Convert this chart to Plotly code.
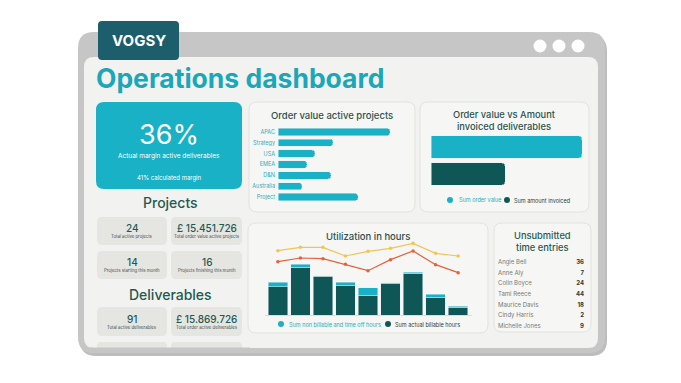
import plotly.graph_objects as go

W, H = 681, 383

# ---------------- data ----------------
region_names = ["APAC", "Strategy", "USA", "EMEA", "D&N", "Australia", "Project"]
region_order_value = [112, 55, 37, 29, 53, 24, 80]

deliv_series = ["Sum order value", "Sum amount invoiced"]
deliv_values = [15869726, 7780000]

util_periods = ["P1", "P2", "P3", "P4", "P5", "P6", "P7", "P8", "P9"]
util_billable = [85, 144, 116, 90, 59, 95, 125, 54, 23]
util_nonbillable = [13, 9, 2, 9, 23, 2, 3, 8, 4]
util_line_yellow = [193, 203, 203, 177, 191, 200, 215, 185, 177]
util_line_red = [160, 171, 169, 152, 133, 166, 192, 151, 127]

entry_names = ["Angie Bell", "Anne Aly", "Colin Boyce", "Tami Reece",
               "Maurice Davis", "Cindy Harris", "Michelle Jones"]
entry_counts = [36, 7, 24, 44, 18, 2, 9]

proj_values = ["24", "£ 15.451.726", "14", "16"]
proj_labels = ["Total active projects", "Total order value active projects",
               "Projects starting this month", "Projects finishing this month"]
deliv_kpi_values = ["91", "£ 15.869.726"]
deliv_kpi_labels = ["Total active deliverables", "Total order active deliverables"]

margin_actual = "36%"
margin_calc = "41% calculated margin"

# ---------------- styles ----------------
TEAL = "#19b1c5"
DARK = "#0f5757"
TXT = "#1f5a52"
TITLE_TXT = "#2d524d"
FONT = "Inter"


def px(x):
    return x / W


def py(y):
    return 1 - y / H


def P(x, y):
    return f"{px(x):.5f},{py(y):.5f}"


def rr(x0, y0, x1, y1, r):
    return (f"M{P(x0 + r, y0)} L{P(x1 - r, y0)} Q{P(x1, y0)} {P(x1, y0 + r)} "
            f"L{P(x1, y1 - r)} Q{P(x1, y1)} {P(x1 - r, y1)} L{P(x0 + r, y1)} "
            f"Q{P(x0, y1)} {P(x0, y1 - r)} L{P(x0, y0 + r)} Q{P(x0, y0)} {P(x0 + r, y0)} Z")


shapes = []


def box(x0, y0, x1, y1, r, fill, line=None, lw=0):
    shapes.append(dict(type="path", xref="paper", yref="paper", path=rr(x0, y0, x1, y1, r),
                       fillcolor=fill, line=dict(color=line or fill, width=lw), layer="below"))


def circ(cx, cy, r, fill):
    shapes.append(dict(type="circle", xref="paper", yref="paper",
                       x0=px(cx - r), x1=px(cx + r), y0=py(cy + r), y1=py(cy - r),
                       fillcolor=fill, line=dict(width=0), layer="above"))


annotations = []


def text(x, y, s, size, color, bold=False, xanchor="center", family=FONT, weight=None):
    annotations.append(dict(x=px(x), y=py(y), xref="paper", yref="paper", text=s,
                            showarrow=False, xanchor=xanchor, yanchor="middle",
                            font=dict(size=size, color=color, family=family,
                                      weight=weight if weight else (700 if bold else 400))))


# frame
box(80, 35, 607, 356, 16, "#bdbdbd")
box(78, 32, 605, 353, 16, "#c6c6c6")
box(84, 57, 598, 348, 10, "#f2f2f0")
for cx in [540, 559, 578]:
    circ(cx, 46, 6.5, "#ffffff")
# VOGSY tab
box(98, 21, 179, 60, 4, "#1d5e6c")
text(138.5, 41, "VOGSY", 15, "#ffffff", bold=True)

text(94, 78, "Operations dashboard", 26.5, "#1ba7ba", bold=True, xanchor="left")

# margin KPI card
box(96, 102, 242, 189, 8, TEAL)
text(169, 134.5, margin_actual, 27, "#ffffff")
text(169, 155.5, "Actual margin active deliverables", 6.5, "#ffffff")
text(169, 178, margin_calc, 6, "#ffffff")

# panels
PANEL = "#f6f6f4"
PLINE = "#e2e2de"
box(249, 102, 415, 212, 8, PANEL, PLINE, 1)
box(420, 102, 589, 212, 8, PANEL, PLINE, 1)
box(248, 223, 488, 333, 8, PANEL, PLINE, 1)
box(494, 223, 591, 332, 8, PANEL, PLINE, 1)

text(332, 115, "Order value active projects", 9.5, TITLE_TXT, weight=500)
text(504, 120, "Order value vs Amount<br>invoiced deliverables", 9.3, TITLE_TXT, weight=500)
text(368, 236, "Utilization in hours", 9.5, TITLE_TXT, weight=500)
text(542, 241.5, "Unsubmitted<br>time entries", 9.3, TXT, weight=500)

# KPI cards
CARD = "#e5e5e2"
text(170, 202, "Projects", 14, TXT, weight=500)
text(170, 294, "Deliverables", 14, TXT, weight=500)
card_cols = [(97, 167), (171, 242)]
rows = [(217, 245), (251, 279)]
for i, (v, l) in enumerate(zip(proj_values, proj_labels)):
    (x0, x1), (y0, y1) = card_cols[i % 2], rows[i // 2]
    box(x0, y0, x1, y1, 5, CARD)
    text((x0 + x1) / 2, y0 + 11, v, 10, TXT, weight=500)
    text((x0 + x1) / 2, y0 + 19.5, l, 4.3, "#3c4f4b")
for i, (v, l) in enumerate(zip(deliv_kpi_values, deliv_kpi_labels)):
    x0, x1 = card_cols[i]
    y0, y1 = 307, 336
    box(x0, y0, x1, y1, 5, CARD)
    text((x0 + x1) / 2, y0 + 12, v, 10, TXT, weight=500)
    text((x0 + x1) / 2, y0 + 20.5, l, 4.3, "#3c4f4b")
for x0, x1 in card_cols:
    box(x0, 342, x1, 352, 4, CARD)
# frame strip covering the bottom of the partially visible card row
shapes.append(dict(type="rect", xref="paper", yref="paper", x0=px(90), x1=px(250),
                   y0=py(353), y1=py(347.5), fillcolor="#c6c6c6", line=dict(width=0), layer="below"))

# legends
circ(450, 200, 3, TEAL)
text(457, 200, "Sum order value", 5.5, TEAL, xanchor="left")
circ(507, 200, 3, DARK)
text(512, 200, "Sum amount invoiced", 5.5, "#2e3d3a", xanchor="left")
circ(281, 324, 3, TEAL)
text(287, 324, "Sum non billable and time off hours", 5.5, TEAL, xanchor="left")
circ(388, 324, 3, DARK)
text(393, 324, "Sum actual billable hours", 5.5, "#2e3d3a", xanchor="left")

fig = go.Figure()

# chart 1: order value active projects
fig.add_trace(go.Bar(x=region_order_value, y=region_names, orientation="h",
                     marker=dict(color=TEAL, cornerradius=3), width=0.68,
                     xaxis="x2", yaxis="y2", showlegend=False))

# chart 2: order value vs invoiced
fig.add_trace(go.Bar(x=deliv_values, y=deliv_series, orientation="h",
                     marker=dict(color=[TEAL, DARK], cornerradius=4), width=0.85,
                     xaxis="x3", yaxis="y3", showlegend=False))

# chart 3: utilization
fig.add_trace(go.Bar(x=util_periods, y=util_billable, marker=dict(color=DARK),
                     width=0.87, xaxis="x4", yaxis="y4", showlegend=False))
fig.add_trace(go.Bar(x=util_periods, y=util_nonbillable, marker=dict(color=TEAL),
                     width=0.87, xaxis="x4", yaxis="y4", showlegend=False))
fig.add_trace(go.Scatter(x=util_periods, y=util_line_yellow, mode="lines+markers",
                         line=dict(color="#f2c552", width=1.2), marker=dict(size=3.5, color="#f2c552"),
                         xaxis="x4", yaxis="y4", showlegend=False))
fig.add_trace(go.Scatter(x=util_periods, y=util_line_red, mode="lines+markers",
                         line=dict(color="#e8613a", width=1.2), marker=dict(size=3.5, color="#e8613a"),
                         xaxis="x4", yaxis="y4", showlegend=False))

# chart 4: unsubmitted entries list
fig.add_trace(go.Scatter(x=[0] * len(entry_names), y=entry_names, mode="text",
                         text=entry_names, textposition="middle right",
                         textfont=dict(size=6, color="#6f7f7b", family=FONT),
                         xaxis="x5", yaxis="y5", showlegend=False, cliponaxis=False))
fig.add_trace(go.Scatter(x=[1] * len(entry_names), y=entry_names, mode="text",
                         text=[str(v) for v in entry_counts], textposition="middle left",
                         textfont=dict(size=6, color="#2e3d3a", family=FONT, weight=700),
                         xaxis="x5", yaxis="y5", showlegend=False, cliponaxis=False))

hidden = dict(visible=False, showgrid=False, zeroline=False, fixedrange=True)

fig.update_layout(
    width=W, height=H, margin=dict(l=0, r=0, t=0, b=0),
    paper_bgcolor="#ffffff", plot_bgcolor="rgba(0,0,0,0)",
    barmode="stack", shapes=shapes, annotations=annotations,
    font=dict(family=FONT),
    xaxis=dict(hidden, domain=[0, 1], range=[0, 1]),
    yaxis=dict(hidden, domain=[0, 1], range=[0, 1]),
    xaxis2=dict(hidden, domain=[px(278), px(398)], range=[0, 120], anchor="y2"),
    yaxis2=dict(domain=[py(202.5), py(126.5)], anchor="x2", autorange="reversed",
                showgrid=False, zeroline=False, showline=False, ticks="",
                tickfont=dict(size=5.5, color="#2aaec0", family=FONT), ticklabelstandoff=2),
    xaxis3=dict(hidden, domain=[px(431), px(582)], range=[0, deliv_values[0]], anchor="y3"),
    yaxis3=dict(hidden, domain=[py(187.5), py(133.5)], anchor="x3", autorange="reversed"),
    xaxis4=dict(domain=[px(264.5), px(471.5)], anchor="y4", showgrid=False, zeroline=False,
                showticklabels=False, ticks="", showline=True, linecolor="#dcdcd8", linewidth=1),
    yaxis4=dict(hidden, domain=[py(315), py(235)], range=[0, 240], anchor="x4"),
    xaxis5=dict(hidden, domain=[px(498), px(584)], range=[0, 1], anchor="y5"),
    yaxis5=dict(hidden, domain=[py(330), py(259)], anchor="x5", autorange="reversed"),
)

fig.write_html("out.html")
